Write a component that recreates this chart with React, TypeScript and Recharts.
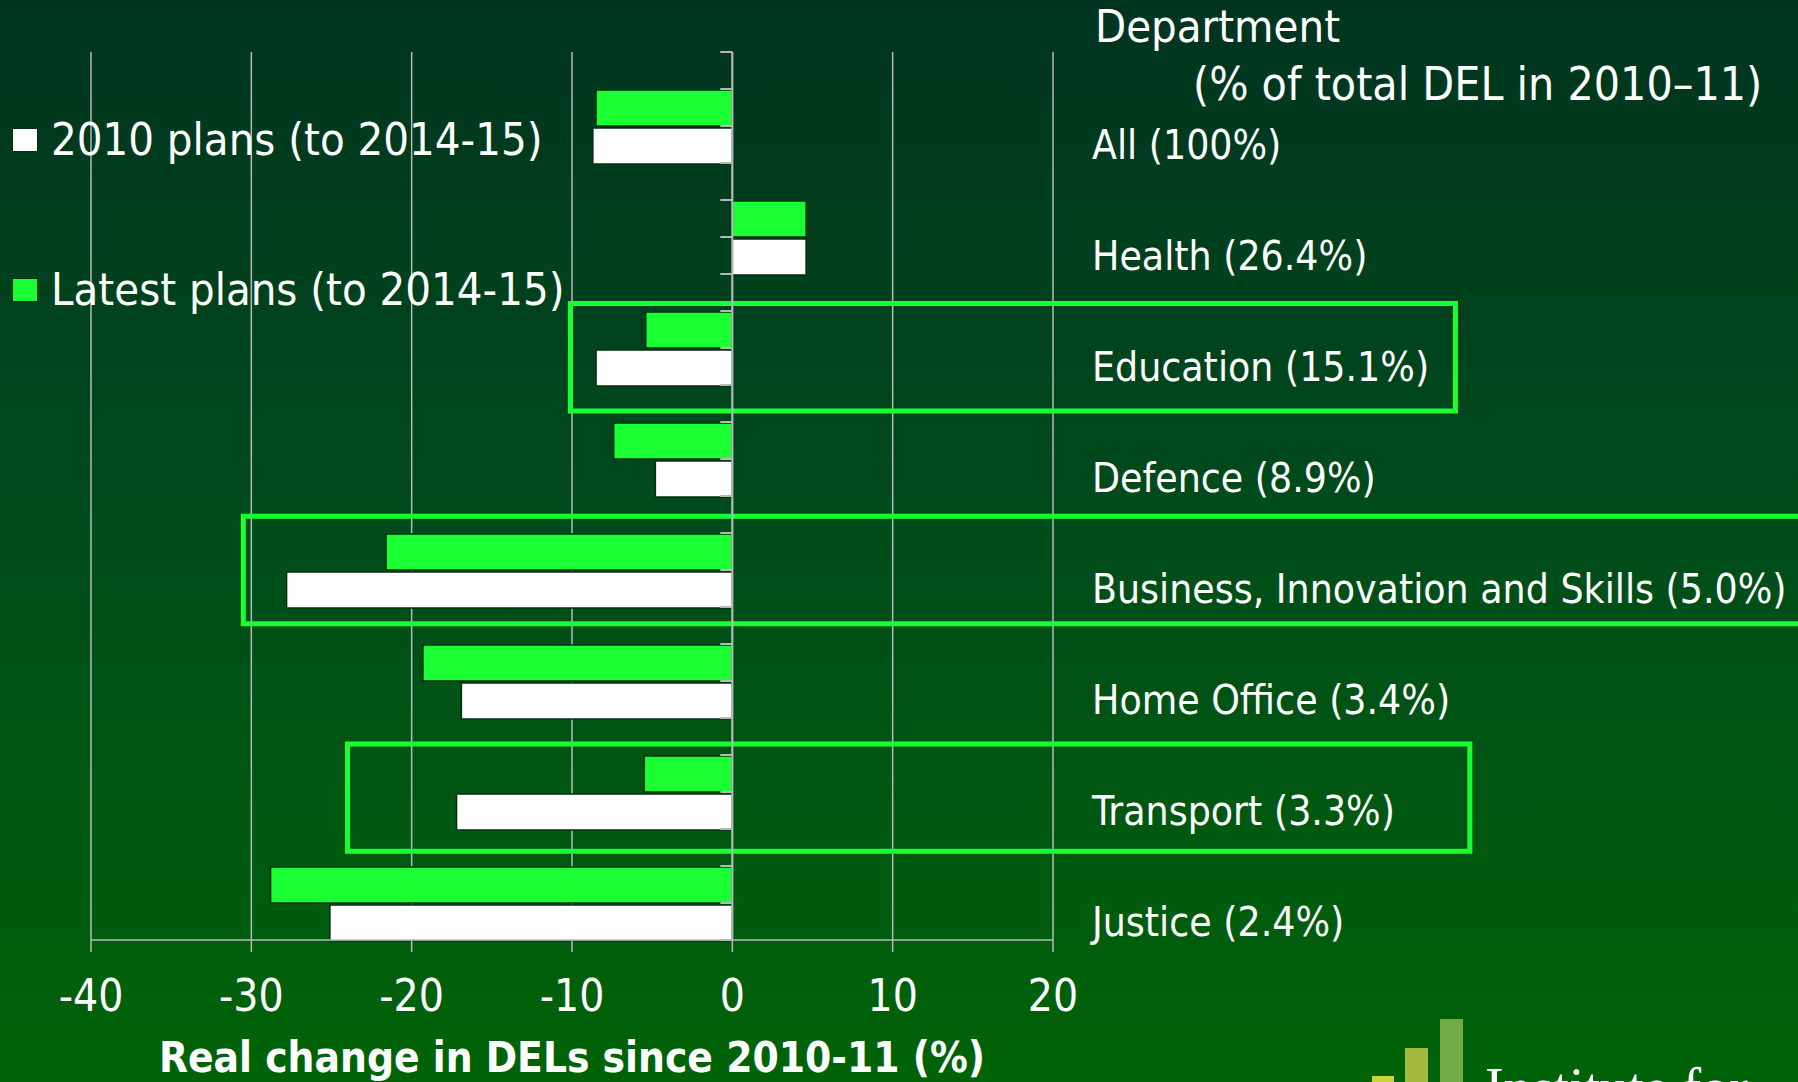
import { BarChart, Bar, XAxis, YAxis, CartesianGrid, ReferenceLine, ReferenceArea, Legend } from 'recharts';

const departments = [
  'All (100%)',
  'Health (26.4%)',
  'Education (15.1%)',
  'Defence (8.9%)',
  'Business, Innovation and Skills (5.0%)',
  'Home Office (3.4%)',
  'Transport (3.3%)',
  'Justice (2.4%)',
];
const latestPlans = [-8.5, 4.6, -5.4, -7.4, -21.6, -19.3, -5.5, -28.8];
const plans2010 = [-8.7, 4.6, -8.5, -4.8, -27.8, -16.9, -17.2, -25.1];
const xTicks = [-40, -30, -20, -10, 0, 10, 20];
const seriesNames = ['2010 plans (to 2014-15)', 'Latest plans (to 2014-15)'];

// highlight boxes, x in % change, y in bar slots (3 slots per department)
const highlights = [
  { dept: 2, from: -10.1, to: 45.1, top: 0.8, bottom: 3.7 },
  { dept: 4, from: -30.5, to: 70, top: 0.55, bottom: 3.45 },
  { dept: 6, from: -24.0, to: 46.0, top: 0.7, bottom: 3.6 },
];

const data = departments.map((name, i) => ({
  name,
  latest: latestPlans[i],
  plans2010: plans2010[i],
  slot: i * 3 + 1.5,
}));

const FONT = '"Liberation Sans Narrow", "DejaVu Sans Condensed", "Open Sans", sans-serif';
const W = 1798;
const H = 1082;
const PLOT_TOP = 52;
const PLOT_BOTTOM = 940;
const SLOT = (PLOT_BOTTOM - PLOT_TOP) / departments.length / 3;
const slots = Array.from({ length: departments.length * 3 + 1 }, (_, i) => i);

const BRIGHT = '#1aff33';
const GRID = '#b8b8b8';

function DeptTick(props: any) {
  const { x, y, payload } = props;
  return (
    <text x={x} y={y + SLOT} dy="0.35em" fill="#fff" fontSize={40.5} fontFamily={FONT}>
      {payload.value}
    </text>
  );
}

function LegendBox(props: any) {
  const payload = props.payload || [];
  const items = seriesNames.map((n) => payload.find((p: any) => p.value === n)).filter(Boolean);
  return (
    <div>
      {items.map((it: any) => (
        <div
          key={it.value}
          style={{ height: 70, lineHeight: '70px', marginBottom: 80, display: 'flex', alignItems: 'center', whiteSpace: 'nowrap' }}
        >
          <span style={{ display: 'inline-block', width: 24, height: 22, background: it.color, border: '1px solid #003010', marginLeft: 12, marginRight: 13 }} />
          <span style={{ color: '#fff', fontSize: 45, fontFamily: FONT }}>{it.value}</span>
        </div>
      ))}
    </div>
  );
}

export default function App() {
  return (
    <div
      style={{
        position: 'absolute',
        left: 0,
        top: 0,
        width: W,
        height: H,
        overflow: 'hidden',
        background: 'linear-gradient(to bottom, #00341f 0%, #004a1c 45%, #006308 100%)',
      }}
    >
      <div style={{ position: 'absolute', left: 1095, top: 0, color: '#fff', fontSize: 45, fontFamily: FONT, lineHeight: '54px' }}>
        Department
      </div>
      <div style={{ position: 'absolute', left: 1193, top: 57, color: '#fff', fontSize: 46, fontFamily: FONT, lineHeight: '54px' }}>
        (% of total DEL in 2010–11)
      </div>

      <BarChart
        width={W}
        height={H}
        data={data}
        layout="vertical"
        margin={{ top: PLOT_TOP, right: 0, bottom: 0, left: 91 }}
        barCategoryGap={0}
        barGap={2}
      >
        <CartesianGrid horizontal={false} stroke={GRID} strokeWidth={1.5} />
        <XAxis
          type="number"
          domain={[-40, 20]}
          ticks={xTicks}
          height={142}
          stroke={GRID}
          strokeWidth={1.5}
          tickSize={12}
          tickMargin={28}
          tick={{ fill: '#fff', fontSize: 44, fontFamily: FONT }}
          label={{
            value: 'Real change in DELs since 2010-11 (%)',
            position: 'insideBottom',
            offset: 10,
            fill: '#fff',
            fontSize: 42,
            fontWeight: 'bold',
            fontFamily: FONT,
          }}
        />
        <YAxis
          yAxisId="cat"
          type="category"
          dataKey="name"
          orientation="right"
          width={745}
          axisLine={false}
          tickLine={false}
          tickSize={0}
          tickMargin={39}
          interval={0}
          tick={<DeptTick />}
        />
        <YAxis
          yAxisId="slot"
          type="number"
          dataKey="slot"
          domain={[0, slots.length - 1]}
          allowDataOverflow
          hide
        />

        <Bar yAxisId="cat" dataKey={() => 0} legendType="none" fill="none" isAnimationActive={false} />
        <Bar yAxisId="cat" dataKey="latest" name={seriesNames[1]} fill={BRIGHT} stroke="#003010" strokeWidth={1.5} isAnimationActive={false} />
        <Bar yAxisId="cat" dataKey="plans2010" name={seriesNames[0]} fill="#ffffff" stroke="#003010" strokeWidth={1.5} isAnimationActive={false} />

        <ReferenceLine yAxisId="cat" x={0} stroke={GRID} strokeWidth={2} />
        {slots.map((s) => (
          <ReferenceLine
            key={s}
            yAxisId="slot"
            segment={[{ x: -0.75, y: s }, { x: 0, y: s }]}
            stroke={GRID}
            strokeWidth={2}
          />
        ))}
        {highlights.map((h) => (
          <ReferenceArea
            key={h.dept}
            yAxisId="slot"
            x1={h.from}
            x2={h.to}
            y1={h.dept * 3 + h.top}
            y2={h.dept * 3 + h.bottom}
            fill="none"
            stroke={BRIGHT}
            strokeWidth={5}
            ifOverflow="visible"
          />
        ))}

        <Legend
          layout="vertical"
          align="center"
          verticalAlign="middle"
          content={<LegendBox />}
          wrapperStyle={{ position: 'absolute', left: 0, top: 105, width: 600, height: 300 }}
        />
      </BarChart>

      {/* IFS logo, cut off at the bottom edge */}
      <div style={{ position: 'absolute', left: 1372, top: 1076, width: 22, height: 20, background: '#c8d43a' }} />
      <div style={{ position: 'absolute', left: 1405, top: 1048, width: 23, height: 40, background: '#a3b93f' }} />
      <div style={{ position: 'absolute', left: 1440, top: 1019, width: 23, height: 70, background: '#72ab45' }} />
      <div style={{ position: 'absolute', left: 1485, top: 1058, color: '#fff', fontSize: 56, fontFamily: '"Liberation Serif", serif', lineHeight: '60px', whiteSpace: 'nowrap' }}>
        Institute for
      </div>
    </div>
  );
}
